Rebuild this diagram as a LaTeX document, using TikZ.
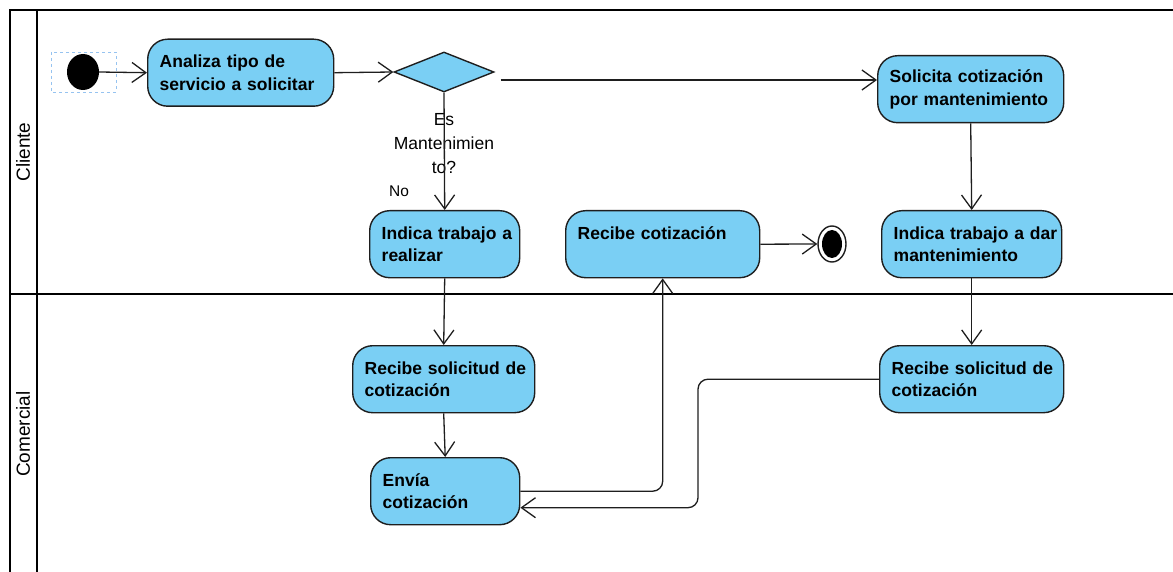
\documentclass[tikz,border=0pt]{standalone}
\usepackage{fontspec}
\setmainfont{Liberation Sans}
\usetikzlibrary{arrows.meta,shapes.geometric,calc}
\definecolor{actfill}{RGB}{122,207,244}
\definecolor{selblue}{RGB}{150,195,240}
\definecolor{ink}{RGB}{30,30,30}
\begin{document}
\begin{tikzpicture}[x=1pt,y=-1pt,
  act/.style={draw=ink, line width=1.4pt, fill=actfill, rounded corners=20pt,
    font=\bfseries\fontsize{17.5}{22.5}\selectfont, text=black, align=left,
    inner xsep=12pt, inner ysep=0pt, minimum height=67pt, anchor=north west},
  arr/.style={draw=ink, line width=1.3pt, -{Straight Barb[length=14pt,width=20pt,line width=1.3pt]}},
  frame/.style={draw=black, line width=2.8pt},
  lane/.style={font=\fontsize{19}{22}\selectfont, rotate=90, text=black},
  lbl/.style={font=\fontsize{17.5}{24}\selectfont, align=center, text=black, inner sep=0pt},
  selbox/.style={draw=selblue, dashed, line width=0.8pt}
]
\useasboundingbox (0,0) rectangle (1173,572);
% frame
\draw[frame] (1173,10) -- (10,10) -- (10,572);
\draw[frame] (37,10) -- (37,572);
\draw[frame] (10,294) -- (1173,294);
\node[lane] (lc) at (23,152) {Cliente};
\node[lane] (lm) at (23,434) {Comercial};

% start
\draw[selbox] (51,52) rectangle (116,92);
\node[ellipse, fill=black, minimum width=32pt, minimum height=36pt, inner sep=0pt] (start) at (83,72) {};

% activities
\node[act, text width=162pt] (ana) at (147,38.5) {\mbox{Analiza tipo de}\\\mbox{servicio a solicitar}};
\node[diamond, draw=ink, line width=1.4pt, fill=actfill, minimum width=100pt, minimum height=40pt, inner sep=0pt] (dia) at (444,72) {};
\node[act, text width=162pt] (sol) at (877,55) {\mbox{Solicita cotización}\\\mbox{por mantenimiento}};
\node[act, text width=126pt] (ind1) at (369,210) {\mbox{Indica trabajo a}\\\mbox{realizar}};
\node[act, text width=170pt] (rc) at (565,210) {\mbox{Recibe cotización}\\\mbox{}};
\node[act, text width=156pt] (ind2) at (881,210) {\mbox{Indica trabajo a dar}\\\mbox{mantenimiento}};
\node[act, text width=158pt] (rs1) at (352,345) {\mbox{Recibe solicitud de}\\\mbox{cotización}};
\node[act, text width=125pt] (env) at (370,457) {\mbox{Envía}\\\mbox{cotización}};
\node[act, text width=160pt] (rs2) at (879,345) {\mbox{Recibe solicitud de}\\\mbox{cotización}};

% end
\node[ellipse, draw=ink, line width=1.4pt, fill=white, minimum width=28pt, minimum height=36pt, inner sep=0pt,
  path picture={\fill[black] (path picture bounding box.center) ellipse (10pt and 14pt);}] (fin) at (832,244) {};

% labels
\node[lbl] (q) at (444,144) {Es\\Mantenimien\\to?};
\node[font=\fontsize{15.5}{18}\selectfont, text=black, inner sep=0pt] (no) at (399,191) {No};

% connectors
\draw[arr] (start.east) -- (ana.west);
\draw[arr] (ana.east) -- (dia.west);
\draw[arr] ([xshift=6pt,yshift=-8pt]dia.east) coordinate (d1) -- (d1 -| sol.west);
\draw[arr] (dia.south) -- (ind1.north);
\draw[arr] (sol.south) -- (ind2.north);
\draw[arr] (rc.east) -- (fin.west);
\draw[arr] (ind1.south) -- (rs1.north);
\draw[arr] (rs1.south) -- (env.north);
\draw[arr] (ind2.south) -- (rs2.north);
\draw[arr, rounded corners=10pt] (env.east) -| (rc.south);
\draw[arr, rounded corners=10pt] (rs2.west) -- ++(-181pt,0) coordinate (k1) |- ([yshift=-16.5pt]env.east);
\end{tikzpicture}
\end{document}
